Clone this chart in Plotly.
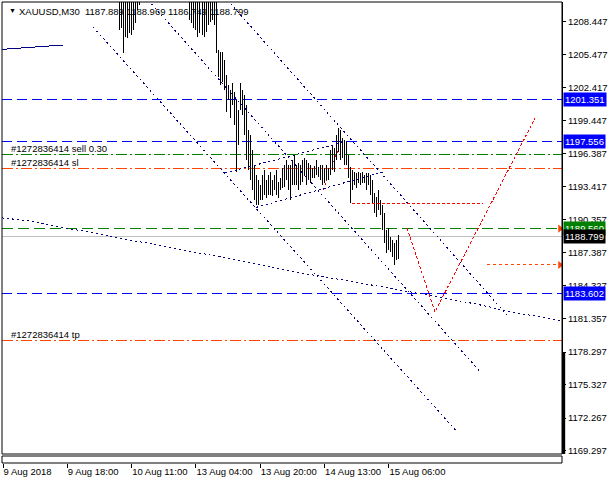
import plotly.graph_objects as go

# ---------------- data ----------------
time_ticks = [0, 32, 64, 96, 128, 160, 192]
time_labels = ["9 Aug 2018", "9 Aug 18:00", "10 Aug 11:00", "13 Aug 04:00",
               "13 Aug 20:00", "14 Aug 13:00", "15 Aug 06:00"]
price_ticks = [1208.447, 1205.477, 1202.417, 1199.447, 1196.387, 1193.417, 1190.357,
               1187.387, 1184.327, 1181.357, 1178.297, 1175.327, 1172.267, 1169.297]

# bars (M30) - first block, tops run above the visible range
bars_a_idx = list(range(58, 69))
highs_a = [1211.2, 1211.4, 1211.0, 1211.3, 1211.5, 1211.2, 1211.4, 1211.6, 1211.3, 1211.1, 1210.9]
lows_a = [1207.69, 1207.88, 1205.59, 1207.05, 1206.96, 1207.42, 1207.24, 1207.69, 1208.33, 1209.52, 1209.97]

# second block, bar 93 .. 197
bars_b_idx = list(range(93, 198))
highs_b = [1210.8, 1210.8, 1210.8, 1210.8, 1210.8, 1210.8, 1210.8, 1210.8, 1210.8, 1210.8,
           1210.8, 1210.8, 1210.8, 1210.6,
           1205.87, 1205.69, 1205.69, 1204.96, 1203.59, 1202.67, 1202.22, 1202.86, 1202.04, 1201.31,
           1200.39, 1202.86, 1202.22, 1201.76, 1200.85, 1198.57, 1198.11, 1196.74, 1195.37, 1194.46,
           1194.00, 1193.55, 1194.46, 1194.92, 1194.00, 1194.46, 1194.73, 1194.00, 1194.46, 1194.92,
           1193.82, 1194.19, 1195.10, 1195.37, 1195.83, 1195.37, 1195.37, 1195.83, 1196.29, 1195.37,
           1195.56, 1195.37, 1195.83, 1196.01, 1195.83, 1195.56, 1195.37, 1195.10, 1195.28, 1195.83,
           1195.19, 1195.37, 1195.37, 1195.10, 1195.37, 1195.10, 1196.74, 1197.20, 1196.92, 1198.11,
           1198.75, 1198.57, 1197.84, 1197.65, 1197.47, 1196.29, 1195.19, 1194.92, 1194.73, 1194.64,
           1194.73, 1194.64, 1194.73, 1194.46, 1194.64, 1194.64, 1194.46, 1194.00, 1192.82, 1192.45,
           1193.09, 1192.18, 1191.72, 1190.99, 1189.44, 1189.62, 1188.80, 1188.53, 1188.25, 1188.53,
           1188.969]
lows_b = [1208.61, 1208.33, 1207.88, 1207.69, 1207.05, 1207.42, 1207.24, 1207.05, 1207.51, 1208.15,
          1208.42, 1208.61, 1208.15, 1205.59,
          1203.40, 1202.67, 1202.95, 1202.22, 1200.21, 1201.31, 1199.66, 1200.85, 1199.02, 1194.73,
          1197.20, 1200.39, 1199.94, 1198.11, 1195.83, 1194.92, 1194.00, 1193.09, 1192.18, 1191.72,
          1191.72, 1192.18, 1192.18, 1192.63, 1192.36, 1192.63, 1192.63, 1192.54, 1193.09, 1192.63,
          1192.36, 1193.09, 1193.27, 1193.37, 1194.00, 1193.09, 1192.18, 1193.55, 1193.55, 1193.55,
          1193.09, 1193.55, 1193.82, 1194.46, 1193.55, 1194.00, 1193.73, 1194.19, 1194.19, 1194.46,
          1194.28, 1194.00, 1193.55, 1193.73, 1194.00, 1194.00, 1194.46, 1194.92, 1194.73, 1195.83,
          1196.56, 1195.83, 1196.01, 1195.37, 1195.37, 1194.19, 1191.90, 1193.09, 1193.55, 1193.27,
          1193.73, 1193.55, 1193.73, 1193.73, 1193.09, 1193.55, 1192.63, 1191.90, 1190.99, 1190.63,
          1191.26, 1190.81, 1189.44, 1188.25, 1187.34, 1187.61, 1187.43, 1186.98, 1186.25, 1186.70,
          1186.749]

last_ohlc = [1187.889, 1188.969, 1186.749, 1188.799]

# horizontal levels
blue_levels = [1201.351, 1197.556, 1183.602]
sell_level = 1196.30
sl_level = 1195.01
tp_level = 1179.31
green_level = 1189.560
bid_level = 1188.799

# chart objects: anchor points (bar index, price)
ma_solid_idx = [-0.5, 29.7]
ma_solid_px = [1205.93, 1206.32]
ma_dot_idx = [-0.5, 15.1, 31.7, 48.3, 58.2, 71.6, 89.6, 108.0, 127.9, 147.8, 177.6, 210.9, 237.3, 250.7, 277.1, 278.1]
ma_dot_px = [1190.54, 1190.20, 1189.60, 1189.07, 1188.68, 1188.25, 1187.61, 1186.98, 1186.25, 1185.54,
             1184.60, 1183.51, 1182.60, 1182.05, 1181.14, 1181.06]
channel_lines = [
    ([44.8, 225.9], [1207.97, 1171.01]),
    ([72.1, 237.3], [1210.43, 1176.52]),
    ([111.6, 250.7], [1210.43, 1181.68]),
    ([110.4, 171.6], [1194.64, 1197.56]),
    ([125.9, 190.0], [1191.50, 1194.78]),
]
red_small_idx = [159.2, 166.7]
red_small_px = [1193.09, 1196.74]
red_h_idx = [173.6, 238.8]
red_h_px = [1191.90, 1191.90]
red_v_idx = [201.0, 214.9, 264.7]
red_v_px = [1189.62, 1181.96, 1199.66]
orange_arrow_idx = [240.8, 277.1]
orange_arrow_px = [1186.25, 1186.25]
green_arrow_idx = [277.1]

x_range = [-0.5, 278.1]
y_range = [1168.99, 1210.25]

FONT = "Liberation Sans"
FS = 9.5
ORANGE = "#FF4500"
NAVY = "#000080"
BLUE = "#0000FF"
GREEN = "#008000"
RED = "#FF0000"

fig = go.Figure()

def hline(level, color, dash, width=1):
    fig.add_trace(go.Scatter(x=x_range, y=[level, level], mode="lines",
                             line=dict(color=color, dash=dash, width=width),
                             hoverinfo="skip", showlegend=False))

hline(bid_level, "#C0C0C0", "solid")
for lv in blue_levels:
    hline(lv, BLUE, "10px,5px")
hline(sell_level, GREEN, "11px,3px,2px,3px")
hline(sl_level, ORANGE, "11px,3px,2px,3px")
hline(tp_level, ORANGE, "11px,3px,2px,3px")
hline(green_level, GREEN, "11px,5px")

# small red dotted segment partly hidden behind the bars
fig.add_trace(go.Scatter(x=red_small_idx, y=red_small_px, mode="lines",
                         line=dict(color=RED, width=1, dash="2px,3px"), hoverinfo="skip", showlegend=False))

# bars
bx, by = [], []
for idx, hi, lo in zip(bars_a_idx + bars_b_idx, highs_a + highs_b, lows_a + lows_b):
    bx += [idx, idx, None]
    by += [lo, hi, None]
fig.add_trace(go.Scatter(x=bx, y=by, mode="lines", line=dict(color="black", width=1),
                         hoverinfo="skip", showlegend=False))

# objects
fig.add_trace(go.Scatter(x=ma_solid_idx, y=ma_solid_px, mode="lines",
                         line=dict(color=NAVY, width=1), hoverinfo="skip", showlegend=False))
fig.add_trace(go.Scatter(x=ma_dot_idx, y=ma_dot_px, mode="lines", line_shape="spline",
                         line=dict(color=NAVY, width=1, dash="2px,3px"), hoverinfo="skip", showlegend=False))
for cx, cy in channel_lines:
    fig.add_trace(go.Scatter(x=cx, y=cy, mode="lines",
                             line=dict(color=NAVY, width=1, dash="2px,3px"),
                             hoverinfo="skip", showlegend=False))
fig.add_trace(go.Scatter(x=red_h_idx, y=red_h_px, mode="lines",
                         line=dict(color=RED, width=1, dash="3px,2px"), hoverinfo="skip", showlegend=False))
fig.add_trace(go.Scatter(x=red_v_idx, y=red_v_px, mode="lines",
                         line=dict(color=RED, width=1, dash="3px,2px"), hoverinfo="skip", showlegend=False))
fig.add_trace(go.Scatter(x=orange_arrow_idx, y=orange_arrow_px, mode="lines",
                         line=dict(color=ORANGE, width=1, dash="3px,3px"), hoverinfo="skip", showlegend=False))
fig.add_trace(go.Scatter(x=[orange_arrow_idx[-1]] + green_arrow_idx,
                         y=[orange_arrow_px[-1], green_level], mode="markers",
                         marker=dict(symbol="triangle-right", size=7, color=ORANGE),
                         hoverinfo="skip", showlegend=False))

# layout
W, H = 610, 483
mt, mb, ml, mr = 2, 20, 2, 48
plot_h = H - mt - mb
ydom0 = 9 / plot_h  # main chart bottom sits above the small empty sub-window

fig.update_layout(
    width=W, height=H, margin=dict(l=ml, r=mr, t=mt, b=mb, autoexpand=False),
    paper_bgcolor="white", plot_bgcolor="white",
    font=dict(family=FONT, size=FS, color="black"),
    xaxis=dict(range=x_range, anchor="free", position=0, showgrid=False, zeroline=False,
               showline=False, tickmode="array", tickvals=time_ticks, ticktext=time_labels,
               ticks="outside", ticklen=4, tickcolor="black", tickangle=0, automargin=False,
               ticklabelposition="outside right", tickfont=dict(family=FONT, size=FS)),
    yaxis=dict(range=y_range, domain=[ydom0, 1], side="right", showgrid=False, zeroline=False,
               showline=True, linecolor="black", linewidth=1, automargin=False,
               tickmode="array", tickvals=price_ticks, ticktext=[f"{v:.3f}" for v in price_ticks],
               ticks="outside", ticklen=3, tickcolor="black", tickfont=dict(family=FONT, size=FS)),
    showlegend=False,
)

shapes = [
    dict(type="rect", xref="paper", yref="y domain", x0=0, x1=1, y0=0, y1=1,
         line=dict(color="black", width=1)),
    dict(type="rect", xref="paper", yref="paper", x0=0, x1=1, y0=0, y1=7 / plot_h,
         line=dict(color="black", width=1)),
    dict(type="line", xref="paper", yref="y", x0=1.003, x1=1.003, y0=price_ticks[10], y1=y_range[0],
         line=dict(color="black", width=3)),
]
fig.update_layout(shapes=shapes)

ann = []
# header
ann.append(dict(xref="paper", yref="paper", x=0, y=1, xanchor="left", yanchor="top",
                xshift=5, yshift=-3, text="▼", showarrow=False, font=dict(size=7, color="black")))
ann.append(dict(xref="paper", yref="paper", x=0, y=1, xanchor="left", yanchor="top",
                xshift=15, yshift=-2,
                text="XAUUSD,M30  " + " ".join(f"{v:.3f}" for v in last_ohlc),
                showarrow=False, font=dict(family=FONT, size=FS, color="black")))
# order labels
for txt, lv in [("#1272836414 sell 0.30", sell_level), ("#1272836414 sl", sl_level),
                ("#1272836414 tp", tp_level)]:
    ann.append(dict(xref="paper", yref="y", x=0, y=lv, xanchor="left", yanchor="bottom",
                    xshift=7, yshift=-1, text=txt, showarrow=False,
                    font=dict(family=FONT, size=FS, color="black")))
# price boxes at the right scale
for lv, bg in [(blue_levels[0], BLUE), (blue_levels[1], BLUE), (green_level, GREEN),
               (bid_level, "black"), (blue_levels[2], BLUE)]:
    ann.append(dict(xref="paper", yref="y", x=1, y=lv, xanchor="left", yanchor="middle",
                    xshift=1, text=f"{lv:.3f}", showarrow=False, bgcolor=bg, borderpad=1,
                    font=dict(family=FONT, size=FS, color="white")))
fig.update_layout(annotations=ann)

post = """
document.body.style.margin = '0';
document.body.style.padding = '0';
var st = document.createElement('style');
st.innerHTML = '.scatterlayer .js-line{shape-rendering:crispEdges;}';
document.head.appendChild(st);
"""
fig.write_html("out.html", post_script=post, config={"displayModeBar": False})
